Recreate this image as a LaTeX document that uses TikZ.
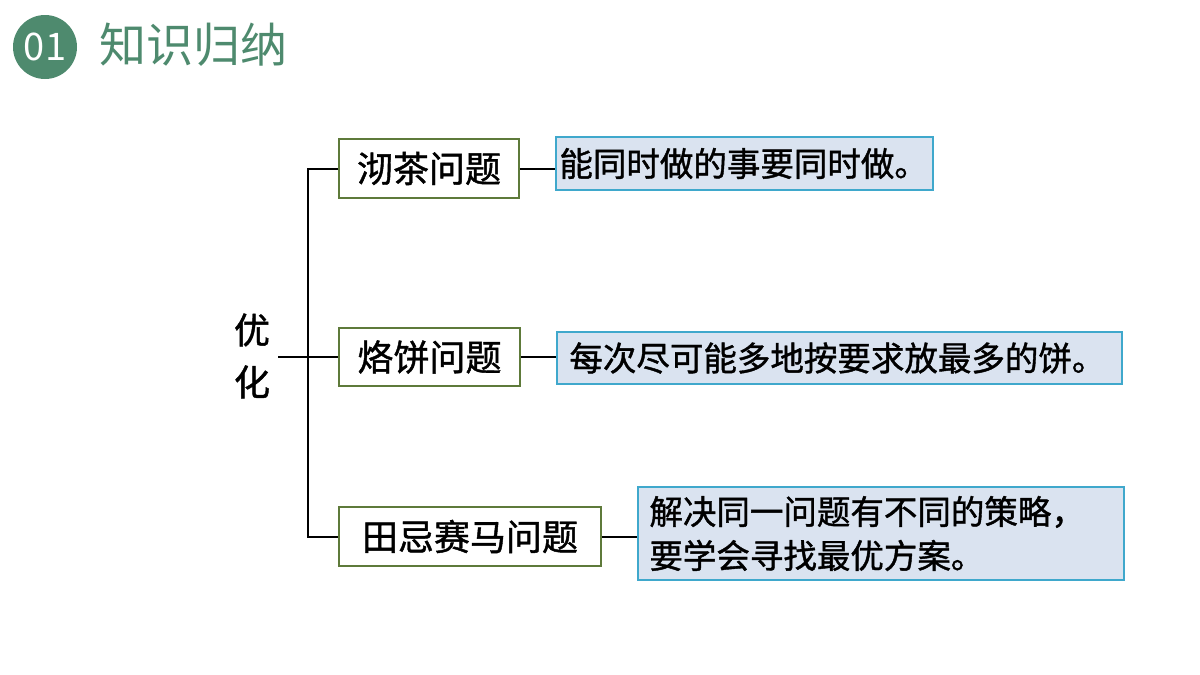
\documentclass[tikz,border=0pt]{standalone}
\usepackage{fontspec}
\setmainfont{Noto Sans CJK SC}
\newfontfamily\kb[FakeBold=1.2]{Noto Sans CJK SC}
\begin{document}
\begin{tikzpicture}[x=1pt,y=-1pt,
 lbox/.style={draw=lb,line width=1.6pt,inner sep=0pt,font=\kb\fontsize{36}{40}\selectfont},
 rbox/.style={draw=rb,fill=rf,line width=1.6pt,inner sep=0pt},
 rt/.style={anchor=west,inner sep=0pt,font=\kb\fontsize{33.5}{44}\selectfont,align=left},
 ln/.style={line width=2pt,black}]
\useasboundingbox (0,0) rectangle (1200,675);
\definecolor{hg}{HTML}{4E8A6E}
\definecolor{lb}{HTML}{5E7A3A}
\definecolor{rb}{HTML}{3FA8CC}
\definecolor{rf}{HTML}{DAE3F0}
\fill[hg] (45,47) circle (32);
\node[text=white,font=\fontsize{38}{38}\selectfont] (num) at (45,47) {01};
\node[text=hg,anchor=west,font=\fontsize{47}{47}\selectfont] (title) at (96,45) {知识归纳};
\node[lbox,minimum width=180,minimum height=59] (a) at (429,168.5) {沏茶问题};
\node[lbox,minimum width=181,minimum height=58] (b) at (429.5,357) {烙饼问题};
\node[lbox,minimum width=262,minimum height=59] (c) at (470,536.5) {田忌赛马问题};
\node[rbox,minimum width=377,minimum height=53] (ra) at (744.5,163.5) {};
\node[rt] (ta) at ([xshift=4pt]ra.west) {能同时做的事要同时做。};
\node[rbox,minimum width=565,minimum height=52] (rb) at (839.5,358) {};
\node[rt] (tb) at ([xshift=13pt]rb.west) {每次尽可能多地按要求放最多的饼。};
\node[rbox,minimum width=486,minimum height=93] (rc) at (881,533.5) {};
\node[rt] (tc) at ([xshift=12pt]rc.west) {解决同一问题有不同的策略，\\要学会寻找最优方案。};
\node[font=\kb\fontsize{36}{52}\selectfont,align=center] (root) at (252,356) {优\\化};
\coordinate (j) at (308,357);
\draw[ln] (278,357) -- (j);
\draw[ln] (a.west) -| (j) |- (c.west);
\draw[ln] (j) -- (b.west);
\draw[ln] (a.east) -- (a.east -| ra.west);
\draw[ln] (b.east) -- (b.east -| rb.west);
\draw[ln] (c.east) -- (c.east -| rc.west);
\end{tikzpicture}
\end{document}
